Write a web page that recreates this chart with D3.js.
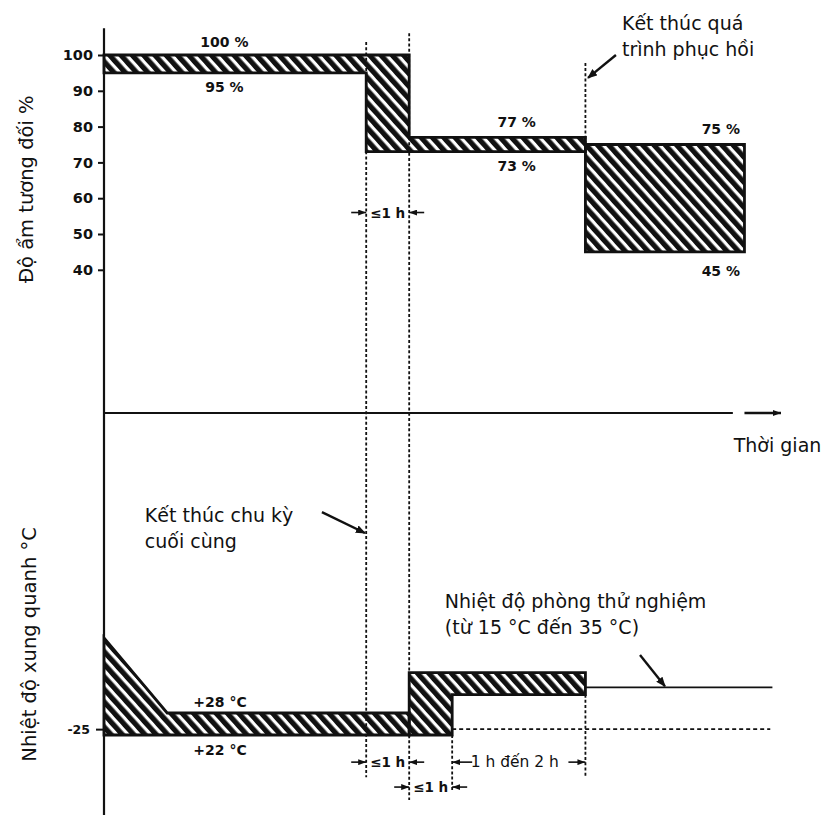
<!DOCTYPE html>
<html lang="vi">
<head>
    <meta charset="UTF-8">
    <script src="https://d3js.org/d3.v7.min.js"></script>
    <style>
        body { margin: 0; background: #fff; }
        svg text { font-family: "DejaVu Sans", sans-serif; fill: #111; }
    </style>
</head>
<body>
    <div id="chart"></div>
    <script>
        /*------------------- Data --------------------*/
        // relative humidity envelopes, [time h (schematic), %]
        const humConditioning = [[0, 100], [7.1, 100], [7.1, 77], [11.2, 77], [11.2, 73], [6.1, 73], [6.1, 95], [0, 95]];
        const humRecovery = [[11.2, 75], [14.9, 75], [14.9, 45], [11.2, 45]];
        const humTicks = [40, 50, 60, 70, 80, 90, 100];
        const humLabels = [
            { t: 2.8, v: 100, dy: -8, text: "100 %" },
            { t: 2.8, v: 95, dy: 19, text: "95 %" },
            { t: 9.6, v: 77, dy: -10, text: "77 %" },
            { t: 9.6, v: 73, dy: 19, text: "73 %" },
            { t: 14.35, v: 75, dy: -11, text: "75 %" },
            { t: 14.35, v: 45, dy: 24, text: "45 %" }
        ];

        // ambient temperature envelopes, [time h, °C]
        const tempCold = [[0, 48.5], [1.47, 28], [7.1, 28], [7.1, 22], [0, 22]];
        const tempWarm = [[7.1, 39], [11.2, 39], [11.2, 33], [8.1, 33], [8.1, 22], [7.1, 22]];
        const tempRoom = [[11.2, 35], [15.55, 35]];
        const tempRef = [[8.1, 23.6], [15.5, 23.6]];
        const tempTicks = [23.6];
        const tempTickLabels = ["-25"];
        const tempLabels = [
            { t: 2.7, v: 28, dy: -6, text: "+28 °C" },
            { t: 2.7, v: 22, dy: 20, text: "+22 °C" }
        ];

        // time marks: vertical guides and spans
        const guides = [
            { t: 6.1, from: ["hum", 103.6], to: ["temp", 10.5] },
            { t: 7.1, from: ["hum", 106.1], to: ["temp", 4.3] },
            { t: 8.1, from: ["temp", 22], to: ["temp", 6.5] },
            { t: 11.2, from: ["hum", 97.8], to: ["hum", 75] },
            { t: 11.2, from: ["temp", 33], to: ["temp", 10.5] }
        ];
        const spans = [
            { t0: 6.1, t1: 7.1, s: "hum", v: 56, label: "≤1 h", inward: true },
            { t0: 6.1, t1: 7.1, s: "temp", v: 14.6, label: "≤1 h", inward: true },
            { t0: 7.1, t1: 8.1, s: "temp", v: 7.8, label: "≤1 h", inward: true },
            { t0: 8.1, t1: 11.2, s: "temp", v: 14.6, label: "1 h đến 2 h", inward: false }
        ];

        /*------------------- Scales --------------------*/
        const width = 830, height = 815;
        const x = d3.scaleLinear().domain([0, 15.75]).range([104, 781]);
        const yHum = d3.scaleLinear().domain([0, 100]).range([413, 55]);
        const yTemp = d3.scaleLinear().domain([22, 28]).range([735, 713]);
        const yAt = (s, v) => s === "hum" ? yHum(v) : yTemp(v);

        const svg = d3.select("#chart").append("svg")
            .attr("width", width)
            .attr("height", height);

        const defs = svg.append("defs");
        defs.append("pattern")
            .attr("id", "hatch")
            .attr("patternUnits", "userSpaceOnUse")
            .attr("width", 8.4)
            .attr("height", 8.4)
            .attr("patternTransform", "rotate(-42)")
            .append("rect")
            .attr("width", 5.2)
            .attr("height", 8.4)
            .attr("fill", "#111");

        defs.append("marker")
            .attr("id", "head")
            .attr("viewBox", "0 0 10 8")
            .attr("refX", 9).attr("refY", 4)
            .attr("markerUnits", "userSpaceOnUse")
            .attr("markerWidth", 10).attr("markerHeight", 8)
            .attr("orient", "auto")
            .append("path").attr("d", "M0,0 L10,4 L0,8 Z").attr("fill", "#111");

        defs.append("marker")
            .attr("id", "dim")
            .attr("viewBox", "0 0 8 6")
            .attr("refX", 8).attr("refY", 3)
            .attr("markerUnits", "userSpaceOnUse")
            .attr("markerWidth", 8).attr("markerHeight", 6)
            .attr("orient", "auto")
            .append("path").attr("d", "M0,0 L8,3 L0,6 Z").attr("fill", "#111");

        /*------------------- Envelopes --------------------*/
        const humLine = d3.line().x(d => x(d[0])).y(d => yHum(d[1]));
        const tempLine = d3.line().x(d => x(d[0])).y(d => yTemp(d[1]));

        [humConditioning, humRecovery].forEach(p => {
            svg.append("path")
                .attr("d", humLine(p) + "Z")
                .attr("fill", "url(#hatch)")
                .attr("stroke", "#111")
                .attr("stroke-width", 2.8);
        });
        [tempCold, tempWarm].forEach(p => {
            svg.append("path")
                .attr("d", tempLine(p) + "Z")
                .attr("fill", "url(#hatch)")
                .attr("stroke", "#111")
                .attr("stroke-width", 2.8);
        });

        svg.append("path")
            .attr("d", tempLine(tempRoom))
            .attr("stroke", "#111").attr("stroke-width", 1.8).attr("fill", "none");
        svg.append("path")
            .attr("d", tempLine(tempRef))
            .attr("stroke", "#111").attr("stroke-width", 1.6)
            .attr("stroke-dasharray", "4,3").attr("fill", "none");

        // vertical guides
        svg.selectAll(".guide")
            .data(guides)
            .enter()
            .append("line")
            .attr("x1", d => x(d.t)).attr("x2", d => x(d.t))
            .attr("y1", d => yAt(d.from[0], d.from[1]))
            .attr("y2", d => yAt(d.to[0], d.to[1]))
            .attr("stroke", "#111")
            .attr("stroke-width", 1.8)
            .attr("stroke-dasharray", "3,2.2");

        /*------------------- Axes --------------------*/
        svg.append("line")
            .attr("x1", x(0)).attr("x2", x(0))
            .attr("y1", yHum(107.5)).attr("y2", yTemp(-0.5))
            .attr("stroke", "#111").attr("stroke-width", 2.2);

        svg.append("line")
            .attr("x1", x(0)).attr("x2", x(14.63))
            .attr("y1", yHum(0)).attr("y2", yHum(0))
            .attr("stroke", "#111").attr("stroke-width", 2);
        svg.append("line")
            .attr("x1", x(14.9)).attr("x2", x(15.75))
            .attr("y1", yHum(0)).attr("y2", yHum(0))
            .attr("stroke", "#111").attr("stroke-width", 2.6)
            .attr("marker-end", "url(#dim)");

        const humAxis = svg.append("g")
            .attr("transform", `translate(${x(0)},0)`)
            .call(d3.axisLeft(yHum).tickValues(humTicks).tickSize(6).tickPadding(5));
        const tempAxis = svg.append("g")
            .attr("transform", `translate(${x(0)},0)`)
            .call(d3.axisLeft(yTemp).tickValues(tempTicks).tickSize(8).tickPadding(6)
                .tickFormat((d, i) => tempTickLabels[i]));
        [humAxis, tempAxis].forEach(g => {
            g.select(".domain").remove();
            g.selectAll(".tick line").attr("stroke", "#111").attr("stroke-width", 2);
            g.selectAll(".tick text")
                .attr("fill", "#111")
                .style("font-family", "DejaVu Sans")
                .style("font-size", "14.5px")
                .style("font-weight", "bold");
        });
        tempAxis.selectAll(".tick text").style("font-size", "12.5px");

        svg.append("text")
            .attr("transform", `translate(33,${yHum(62.5)}) rotate(-90)`)
            .attr("text-anchor", "middle")
            .style("font-size", "19.5px")
            .text("Độ ẩm tương đối %");
        svg.append("text")
            .attr("transform", `translate(36,${yTemp(46.7)}) rotate(-90)`)
            .attr("text-anchor", "middle")
            .style("font-size", "19.5px")
            .text("Nhiệt độ xung quanh °C");

        svg.append("text")
            .attr("x", x(14.65)).attr("y", yHum(0) + 39)
            .style("font-size", "19px")
            .text("Thời gian");

        /*------------------- Band labels --------------------*/
        svg.selectAll(".humlab")
            .data(humLabels)
            .enter()
            .append("text")
            .attr("x", d => x(d.t))
            .attr("y", d => yHum(d.v) + d.dy)
            .attr("text-anchor", "middle")
            .style("font-size", "14px")
            .style("font-weight", "bold")
            .text(d => d.text);
        svg.selectAll(".templab")
            .data(tempLabels)
            .enter()
            .append("text")
            .attr("x", d => x(d.t))
            .attr("y", d => yTemp(d.v) + d.dy)
            .attr("text-anchor", "middle")
            .style("font-size", "14px")
            .style("font-weight", "bold")
            .text(d => d.text);

        /*------------------- Time spans --------------------*/
        spans.forEach(d => {
            const x0 = x(d.t0), x1 = x(d.t1), y = yAt(d.s, d.v);
            const arrows = d.inward
                ? [[x0 - 15, x0], [x1 + 15, x1]]
                : [[x0 + 20, x0], [x1 - 17, x1]];
            arrows.forEach(a => {
                svg.append("line")
                    .attr("x1", a[0]).attr("x2", a[1])
                    .attr("y1", y).attr("y2", y)
                    .attr("stroke", "#111").attr("stroke-width", 1.6)
                    .attr("marker-end", "url(#dim)");
            });
            svg.append("text")
                .attr("x", d.inward ? (x0 + x1) / 2 : (x0 + x1) / 2 - 4)
                .attr("y", y + 5)
                .attr("text-anchor", "middle")
                .style("font-size", d.inward ? "13.5px" : "15.5px")
                .style("font-weight", d.inward ? "bold" : "normal")
                .text(d.label);
        });

        /*------------------- Notes --------------------*/
        const note = (tx, ty, lines) => {
            const t = svg.append("text").attr("x", tx).attr("y", ty).style("font-size", "19px");
            lines.forEach((l, i) => {
                t.append("tspan").attr("x", tx).attr("dy", i === 0 ? 0 : 26).text(l);
            });
        };
        const leader = (x1, y1, x2, y2) => {
            svg.append("line")
                .attr("x1", x1).attr("y1", y1).attr("x2", x2).attr("y2", y2)
                .attr("stroke", "#111").attr("stroke-width", 2.4)
                .attr("marker-end", "url(#head)");
        };

        note(x(12.05), yHum(107), ["Kết thúc quá", "trình phục hồi"]);
        leader(x(11.91), yHum(100), x(11.26), yHum(93.6));

        note(x(0.95), yTemp(80.1), ["Kết thúc chu kỳ", "cuối cùng"]);
        leader(x(5.07), yTemp(82.8), x(6.07), yTemp(77.1));

        note(x(7.93), yTemp(56.6), ["Nhiệt độ phòng thử nghiệm", "(từ 15 °C đến 35 °C)"]);
        leader(x(12.47), yTemp(43.8), x(13.05), yTemp(35.3));
    </script>
</body>
</html>
